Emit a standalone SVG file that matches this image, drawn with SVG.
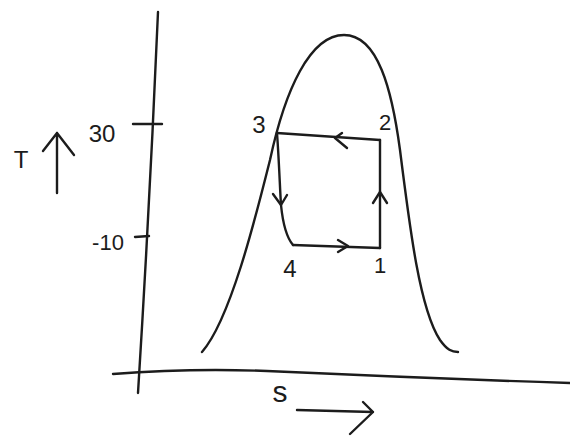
<svg xmlns="http://www.w3.org/2000/svg" width="570" height="436" viewBox="0 0 570 436">
<style>
.ln{fill:none;stroke:#1c1c1c;stroke-width:2.4;stroke-linecap:round;stroke-linejoin:round}
.tx{font-family:"Liberation Sans",Arial,sans-serif;fill:#1c1c1c;text-anchor:middle}
</style>
<rect width="570" height="436" fill="#fff"/>
<g id="axes">
<path class="ln" d="M158,12 Q150,200 138,393"/>
<path class="ln" d="M113,374 Q190,368 267,371 Q420,378 570,383"/>
<path class="ln" d="M133,124 L162,124"/>
<path class="ln" d="M135,237 L149,236"/>
<text class="tx" x="102" y="142" font-size="24">30</text>
<text class="tx" x="108" y="250" font-size="22">-10</text>
<text class="tx" x="21" y="168" font-size="24">T</text>
<path class="ln" d="M57,193 L57,133 M43,151 L57,133 L74,155"/>
<text class="tx" x="280" y="402" font-size="30">s</text>
<path class="ln" d="M297,410 L373,412 M363,402 L373,412 L350,434"/>
</g>
<g id="dome">
<path class="ln" d="M202,352 C230,320 255,220 270,160 C285,90 310,35 344,35 C378,35 392,90 400,150 C410,230 420,310 440,340 C447,350 452,352 458,352"/>
</g>
<g id="connectors">
<path class="ln" d="M277,133 L380,140"/>
<path class="ln" d="M347,148 L335,138 L342,133"/>
<path class="ln" d="M380,140 L380,248"/>
<path class="ln" d="M373,203 L380,192 L387,203"/>
<path class="ln" d="M293,245 L380,248"/>
<path class="ln" d="M338,240 L348,246 L338,252"/>
<path class="ln" d="M277,133 C279,160 280,190 281,205 C283,225 287,238 293,245"/>
<path class="ln" d="M273,194 L281,205 L287,195"/>
</g>
<g id="p3"><text class="tx" x="259" y="133" font-size="24">3</text></g>
<g id="p2"><text class="tx" x="385" y="130" font-size="22">2</text></g>
<g id="p4"><text class="tx" x="290" y="277" font-size="24">4</text></g>
<g id="p1"><text class="tx" x="380" y="273" font-size="22">1</text></g>
</svg>
